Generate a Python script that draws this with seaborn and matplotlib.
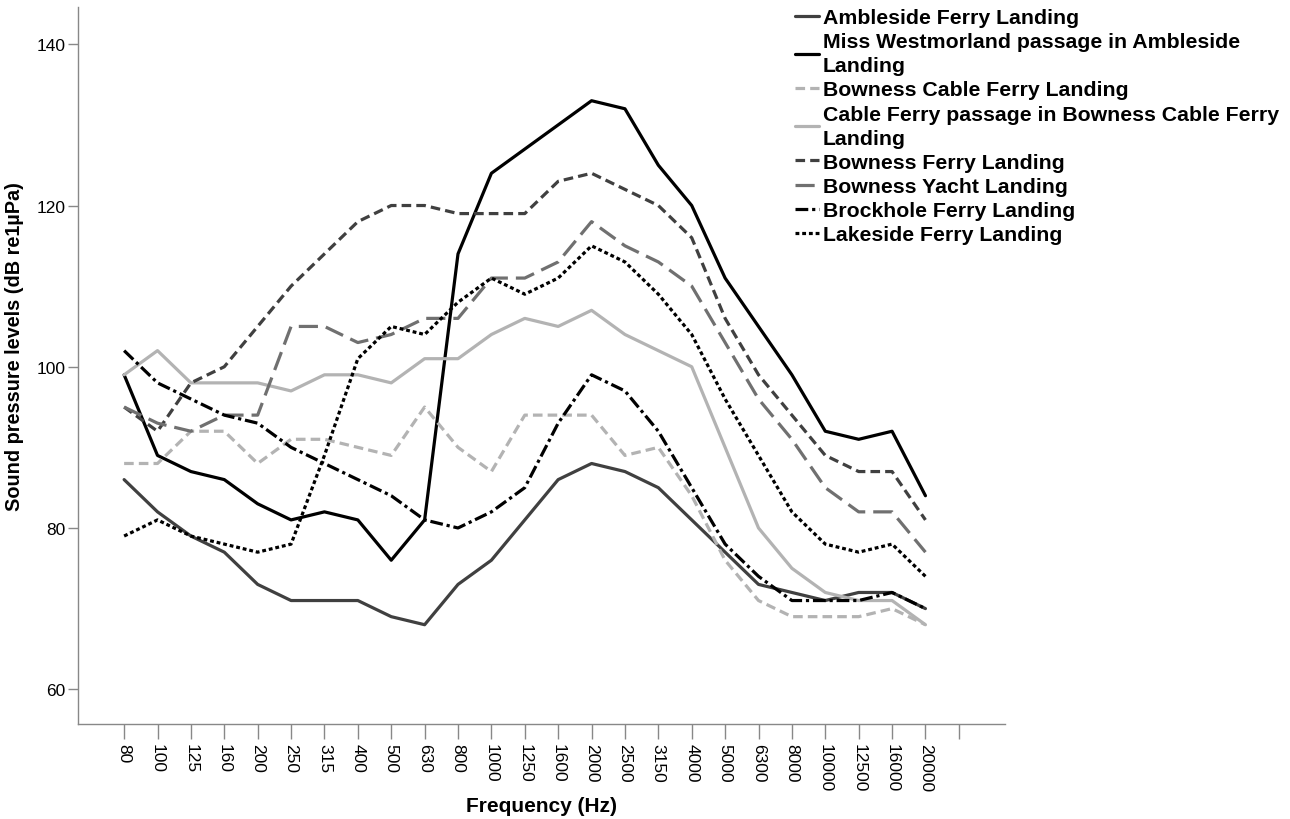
import numpy as np
import pandas as pd
import matplotlib.pyplot as plt
import seaborn as sns

# ── Data ─────────────────────────────────────────────────────────────────────
FREQS = ["80", "100", "125", "160", "200", "250", "315", "400", "500", "630",
         "800", "1000", "1250", "1600", "2000", "2500", "3150", "4000", "5000",
         "6300", "8000", "10000", "12500", "16000", "20000"]

ambleside       = [86, 82, 79, 77, 73, 71, 71, 71, 69, 68, 73, 76, 81, 86, 88, 87, 85, 81, 77, 73, 72, 71, 72, 72, 70]
miss_westmorland = [99, 89, 87, 86, 83, 81, 82, 81, 76, 81, 114, 124, 127, 130, 133, 132, 125, 120, 111, 105, 99, 92, 91, 92, 84]
bowness_cable   = [88, 88, 92, 92, 88, 91, 91, 90, 89, 95, 90, 87, 94, 94, 94, 89, 90, 84, 76, 71, 69, 69, 69, 70, 68]
cable_passage   = [99, 102, 98, 98, 98, 97, 99, 99, 98, 101, 101, 104, 106, 105, 107, 104, 102, 100, 90, 80, 75, 72, 71, 71, 68]
bowness_ferry   = [95, 92, 98, 100, 105, 110, 114, 118, 120, 120, 119, 119, 119, 123, 124, 122, 120, 116, 106, 99, 94, 89, 87, 87, 81]
bowness_yacht   = [95, 93, 92, 94, 94, 105, 105, 103, 104, 106, 106, 111, 111, 113, 118, 115, 113, 110, 103, 96, 91, 85, 82, 82, 77]
brockhole       = [102, 98, 96, 94, 93, 90, 88, 86, 84, 81, 80, 82, 85, 93, 99, 97, 92, 85, 78, 74, 71, 71, 71, 72, 70]
lakeside        = [79, 81, 79, 78, 77, 78, 89, 101, 105, 104, 108, 111, 109, 111, 115, 113, 109, 104, 96, 89, 82, 78, 77, 78, 74]

SITES = [
    "Ambleside Ferry Landing",
    "Miss Westmorland passage in Ambleside\nLanding",
    "Bowness Cable Ferry Landing",
    "Cable Ferry passage in Bowness Cable Ferry\nLanding",
    "Bowness Ferry Landing",
    "Bowness Yacht Landing",
    "Brockhole Ferry Landing",
    "Lakeside Ferry Landing",
]
SERIES = [ambleside, miss_westmorland, bowness_cable, cable_passage,
          bowness_ferry, bowness_yacht, brockhole, lakeside]

# ── Style ────────────────────────────────────────────────────────────────────
COLORS = ["#404040", "#000000", "#b3b3b3", "#b3b3b3",
          "#404040", "#707070", "#000000", "#000000"]
DASHES = ["", "", (3, 1.6), "", (3, 1.6), (6, 2.5), (4, 1.2, 1, 1.2), (1.2, 0.9)]

sns.set_theme(style="white")
plt.rcParams["font.family"] = ["Liberation Sans", "DejaVu Sans"]
plt.rcParams["text.color"] = "black"
plt.rcParams["axes.labelcolor"] = "black"
plt.rcParams["xtick.color"] = "black"
plt.rcParams["ytick.color"] = "black"

rows = []
for site, vals in zip(SITES, SERIES):
    for i, (f, v) in enumerate(zip(FREQS, vals)):
        rows.append({"site": site, "pos": i, "freq": f, "spl": v})
df = pd.DataFrame(rows)

fig = plt.figure(figsize=(12.9, 8.2), dpi=100)
ax = fig.add_axes([0.0605, 0.116, 0.7185, 0.874])

sns.lineplot(
    data=df, x="pos", y="spl", hue="site", style="site",
    hue_order=SITES, style_order=SITES,
    palette=dict(zip(SITES, COLORS)), dashes=dict(zip(SITES, DASHES)),
    lw=2.3, ax=ax, sort=False,
)

ax.set_xlim(-1.38, 26.38)
ax.set_ylim(55.7, 144.6)
ax.set_xticks(range(len(FREQS) + 1))
ax.set_xticklabels(FREQS + [""], rotation=270, fontsize=12.5)
ax.set_yticks([60, 80, 100, 120, 140])
ax.tick_params(axis="y", labelsize=12.5, length=7, width=1, color="#888888", left=True, pad=2)
ax.tick_params(axis="x", length=11, width=1, color="#888888", bottom=True, pad=3)

for side in ["top", "right"]:
    ax.spines[side].set_visible(False)
for side in ["left", "bottom"]:
    ax.spines[side].set_color("#888888")
    ax.spines[side].set_linewidth(1.0)

ax.set_xlabel("Frequency (Hz)", fontsize=15, fontweight="bold", labelpad=3)
ax.set_ylabel("Sound pressure levels (dB re1\u00b5Pa)", fontsize=14.3, fontweight="bold", labelpad=8)
ax.yaxis.set_label_coords(-0.058, 0.528)

leg = ax.legend(
    loc="upper left", frameon=False,
    fontsize=15.3, handlelength=1.15, handletextpad=0.15, labelspacing=0.24,
    borderaxespad=0.0, borderpad=0.0,
)
for t in leg.get_texts():
    t.set_fontweight("bold")
    t.set_linespacing(1.35)
leg.set_bbox_to_anchor((795 / 1290, 1 - 9 / 820), transform=fig.transFigure)

fig.savefig("out.png", dpi=100, facecolor="white")
